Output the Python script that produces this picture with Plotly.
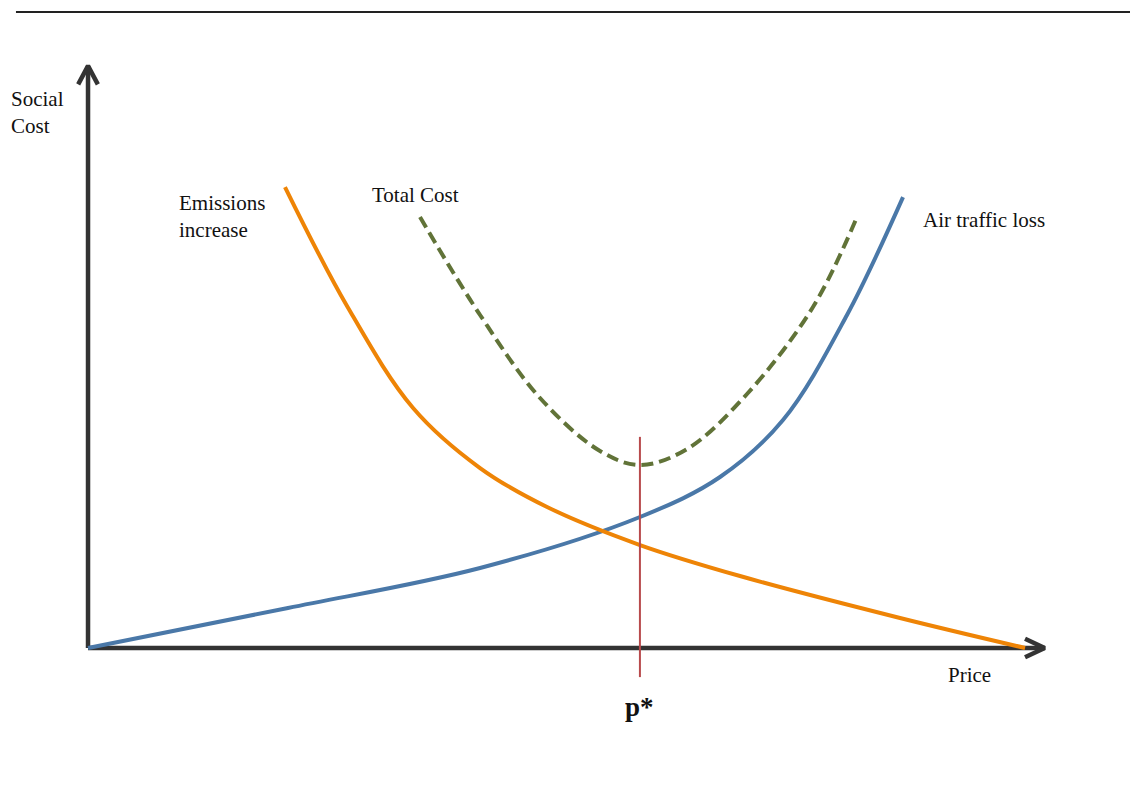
import plotly.graph_objects as go

# Data (arbitrary units: price 0-100, social cost)
emis_x = [21.02, 27.64, 34.69, 41.84, 48.99, 58.91, 69.58, 86.66, 100.0]
emis_y = [99.78, 74.03, 51.95, 38.96, 30.52, 22.29, 15.58, 6.49, 0.0]

air_x = [0.0, 21.34, 41.84, 58.91, 67.45, 74.17, 81.0, 86.98]
air_y = [0.0, 8.66, 17.32, 28.35, 37.01, 49.35, 72.08, 97.6]

total_x = [35.43, 41.84, 48.24, 54.64, 58.91, 63.93, 70.33, 77.37, 82.07]
total_y = [93.29, 72.08, 54.11, 42.64, 39.61, 43.07, 54.98, 73.81, 93.29]

p_star = 58.9
p_line_y = [-6.3, 45.7]

x_axis_end = 102.1
y_axis_end = 126.0

AX = "#333333"
fig = go.Figure()

# axes
fig.add_trace(go.Scatter(x=[0, x_axis_end], y=[0, 0], mode="lines",
                         line=dict(color=AX, width=4.5), hoverinfo="skip"))
fig.add_trace(go.Scatter(x=[0, 0], y=[0, y_axis_end], mode="lines",
                         line=dict(color=AX, width=4.5), hoverinfo="skip"))
# arrow heads (chevrons)
fig.add_trace(go.Scatter(x=[x_axis_end - 2.1, x_axis_end, x_axis_end - 2.1],
                         y=[2.0, 0, -2.0], mode="lines",
                         line=dict(color=AX, width=4.5), hoverinfo="skip"))
fig.add_trace(go.Scatter(x=[-1.05, 0, 1.05],
                         y=[y_axis_end - 4.0, y_axis_end, y_axis_end - 4.0], mode="lines",
                         line=dict(color=AX, width=4.5), hoverinfo="skip"))

# curves
fig.add_trace(go.Scatter(x=air_x, y=air_y, mode="lines", line_shape="spline",
                         line=dict(color="#4A78A8", width=4, smoothing=1), name="Air traffic loss"))
fig.add_trace(go.Scatter(x=emis_x, y=emis_y, mode="lines", line_shape="spline",
                         line=dict(color="#EE8406", width=4, smoothing=1), name="Emissions increase"))
fig.add_trace(go.Scatter(x=total_x, y=total_y, mode="lines", line_shape="spline",
                         line=dict(color="#617338", width=4, dash="12px,6px", smoothing=1),
                         name="Total Cost"))
fig.add_trace(go.Scatter(x=[p_star, p_star], y=p_line_y, mode="lines",
                         line=dict(color="#B84A4C", width=2), name="p*"))

FONT = "Liberation Serif"
ann = dict(showarrow=False, font=dict(family=FONT, size=21, color="#111111"),
           xref="x", yref="y", align="left")
fig.add_annotation(x=-8.41, y=116, text="Social<br>Cost", xanchor="left", yanchor="middle", **ann)
fig.add_annotation(x=9.49, y=93.5, text="Emissions<br>increase", xanchor="left", yanchor="middle", **ann)
fig.add_annotation(x=30.09, y=98, text="Total Cost", xanchor="left", yanchor="middle", **ann)
fig.add_annotation(x=88.89, y=92.6, text="Air traffic loss", xanchor="left", yanchor="middle", **ann)
fig.add_annotation(x=91.59, y=-5.8, text="Price", xanchor="left", yanchor="middle", **ann)
fig.add_annotation(x=58.9, y=-12.8, text="<b>p*</b>", showarrow=False, xanchor="center",
                   yanchor="middle", font=dict(family=FONT, size=27, color="#111111"))

# top rule
fig.add_shape(type="line", xref="paper", yref="paper", x0=0.007, x1=1.0, y0=0.995, y1=0.995,
              line=dict(color="#222222", width=2))

fig.update_layout(
    width=1138, height=798,
    margin=dict(l=0, r=0, t=0, b=0),
    plot_bgcolor="white", paper_bgcolor="white",
    showlegend=False,
    xaxis=dict(range=[-8.54, 112.91], visible=False, fixedrange=True),
    yaxis=dict(range=[-34.2, 138.53], visible=False, fixedrange=True),
)

fig.write_html("out.html")
